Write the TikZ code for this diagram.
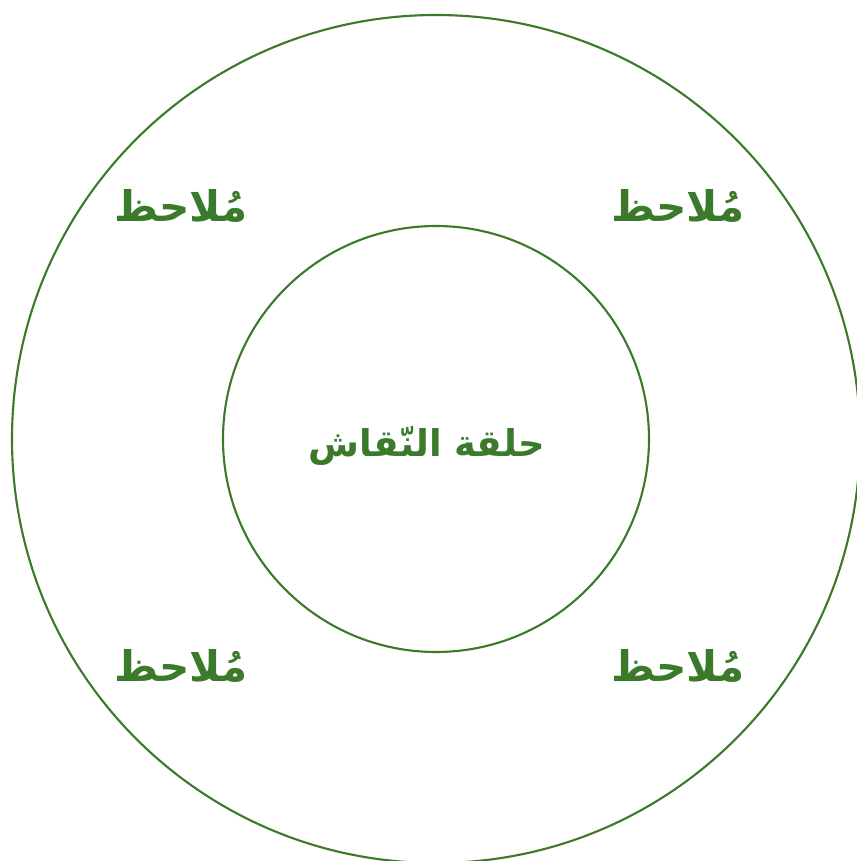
\documentclass[tikz,border=0pt]{standalone}
\usepackage{fontspec}
\newfontfamily\arabicfont[Script=Arabic]{DejaVu Sans}
\TeXXeTstate=1
\usepackage{xcolor}
\definecolor{leaf}{HTML}{3A7A2A}
\usepackage{tikz}
\usetikzlibrary{positioning}

\begin{document}
\begin{tikzpicture}[
  ring/.style={draw=leaf,line width=1.2pt},
  lbl/.style={text=leaf,font=\arabicfont\bfseries\fontsize{24}{28}\selectfont},
  hub/.style={lbl,font=\arabicfont\bfseries\fontsize{21}{25}\selectfont}
]
\useasboundingbox (0,0) rectangle (17.14,17.22);
\clip (0,0) rectangle (17.14,17.22);
\coordinate (c) at (8.72,8.44);
\draw[ring] (c) circle (8.48);
\draw[ring] (c) circle (4.26);
\node[hub] (circle) at (8.54,8.3) {\beginR حلقة النّقاش\endR};
\node[lbl] (obsNW) at (3.62,13.1) {\beginR مُلاحظ\endR};
\node[lbl] (obsNE) at (13.56,13.1) {\beginR مُلاحظ\endR};
\node[lbl] (obsSW) at (3.62,3.9) {\beginR مُلاحظ\endR};
\node[lbl] (obsSE) at (13.56,3.9) {\beginR مُلاحظ\endR};
\end{tikzpicture}
\end{document}
